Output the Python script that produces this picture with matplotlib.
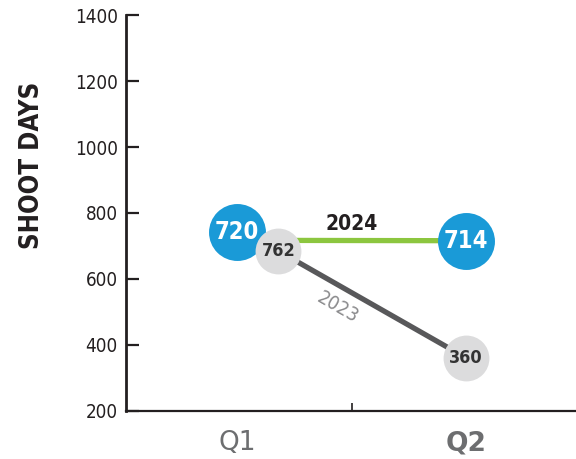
import matplotlib.pyplot as plt

quarters = ['Q1', 'Q2']
labels_2024 = ['720', '714']
labels_2023 = ['762', '360']
# where the marks sit in the picture (y axis units)
circle_2024 = [742, 716]
circle_2023 = [685, 361]
line_2024 = [717, 716]
y_ticks = [200, 400, 600, 800, 1000, 1200, 1400]

blue = '#1a9ad7'
light = '#dcdcdd'
green = '#8cc63f'
dark = '#58585a'
ink = '#231f20'
cond = dict(family='DejaVu Sans', stretch='condensed')

fig = plt.figure(figsize=(5.76, 4.59), dpi=100)
ax = fig.add_axes([0.219, 0.1046, 0.781, 0.8627])

x = [0, 1]
x23 = [0.18, 1]   # the 2023 Q1 circle is nudged right

ax.plot(x23, line_2024, color=green, lw=3.8, solid_capstyle='butt', zorder=2)
ax.plot(x23, circle_2023, color=dark, lw=3.8, solid_capstyle='butt', zorder=2)

ax.plot(x, circle_2024, 'o', ms=41, color=blue, mew=0, zorder=3, ls='none')
ax.plot(x23, circle_2023, 'o', ms=33, color=light, mew=0, zorder=4, ls='none')

for xi, yi, t in zip(x, circle_2024, labels_2024):
    ax.text(xi, yi, t, ha='center', va='center', color='white', fontsize=17,
            fontweight='bold', zorder=5, **cond)
for xi, yi, t in zip(x23, circle_2023, labels_2023):
    ax.text(xi, yi, t, ha='center', va='center', color='#333333', fontsize=13,
            fontweight='bold', zorder=5, **cond)

ax.text(0.5, 768, '2024', ha='center', va='center', color=ink, fontsize=15,
        fontweight='bold', **cond)
ax.text(0.44, 513, '2023', ha='center', va='center', color='#8a8a8c', fontsize=14,
        rotation=-30, **cond)

ax.set_xlim(-0.485, 1.48)
ax.set_ylim(200, 1400)
ax.set_yticks(y_ticks)
ax.set_yticklabels([str(v) for v in y_ticks], fontsize=13.5, color=ink, **cond)
ax.tick_params(axis='y', direction='in', length=9, width=1.6, pad=6, color=ink)

ax.set_xticks([0.5])
ax.set_xticklabels([''])
ax.tick_params(axis='x', which='major', direction='in', length=6, width=1.2, color=ink)
ax.set_xticks(x, minor=True)
ax.set_xticklabels(quarters, minor=True, fontsize=19, color='#6d6e70')
ax.tick_params(axis='x', which='minor', length=0, pad=14)
ax.get_xticklabels(minor=True)[1].set_fontweight('bold')

for s in ['top', 'right']:
    ax.spines[s].set_visible(False)
ax.spines['left'].set_linewidth(2)
ax.spines['bottom'].set_linewidth(1.6)
ax.spines['left'].set_color(ink)
ax.spines['bottom'].set_color(ink)

ax.set_ylabel('SHOOT DAYS', fontsize=18.5, fontweight='bold', color=ink, **cond)
ax.yaxis.set_label_coords(-0.18, 0.62)

fig.savefig('out.png', dpi=100)
